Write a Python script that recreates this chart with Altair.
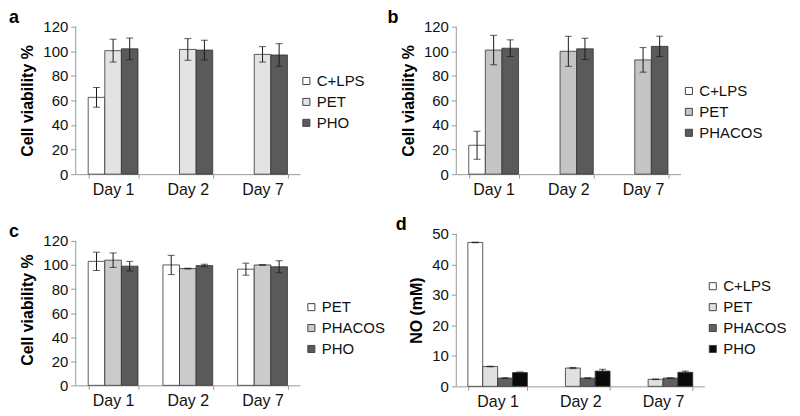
import altair as alt
import pandas as pd

days = ["Day 1", "Day 2", "Day 7"]

# Panel a
a_series = ["C+LPS", "PET", "PHO"]
a_colors = ["#ffffff", "#e3e3e3", "#5a5a5a"]
a_clps = [62.5, None, None]
a_clps_err = [8.0, None, None]
a_pet = [100.5, 101.5, 97.5]
a_pet_err = [9.3, 8.8, 6.3]
a_pho = [102.0, 101.0, 97.0]
a_pho_err = [8.8, 8.0, 9.2]

# Panel b
b_series = ["C+LPS", "PET", "PHACOS"]
b_colors = ["#ffffff", "#c4c4c4", "#5a5a5a"]
b_clps = [23.5, None, None]
b_clps_err = [11.4, None, None]
b_pet = [101.0, 100.0, 93.0]
b_pet_err = [12.0, 12.2, 10.0]
b_phacos = [102.5, 102.0, 104.0]
b_phacos_err = [6.8, 8.7, 8.3]

# Panel c
c_series = ["PET", "PHACOS", "PHO"]
c_colors = ["#ffffff", "#cbcbcb", "#5a5a5a"]
c_pet = [103.0, 100.0, 96.5]
c_pet_err = [7.6, 8.0, 5.0]
c_phacos = [104.0, 97.0, 100.0]
c_phacos_err = [6.0, 0.3, 0.2]
c_pho = [99.0, 99.5, 98.5]
c_pho_err = [4.0, 1.0, 5.0]

# Panel d
d_series = ["C+LPS", "PET", "PHACOS", "PHO"]
d_colors = ["#ffffff", "#e0e0e0", "#606060", "#0a0a0a"]
d_clps = [47.2, None, None]
d_clps_err = [0.1, None, None]
d_pet = [6.5, 6.0, 2.3]
d_pet_err = [0.1, 0.2, 0.1]
d_phacos = [2.7, 2.7, 2.7]
d_phacos_err = [0.1, 0.1, 0.1]
d_pho = [4.5, 5.0, 4.6]
d_pho_err = [0.2, 0.6, 0.4]

FONT = "Arial"


def make_df(series, values, errors):
    rows = []
    for s, vals, errs in zip(series, values, errors):
        for d, v, e in zip(days, vals, errs):
            if v is None:
                continue
            rows.append({"day": d, "series": s, "value": v, "lo": v - e, "hi": v + e})
    return pd.DataFrame(rows)


def panel(df, series, colors, letter, letter_dx, ytitle, ydomain, yvalues, ytop,
          width, height, pin, pout, lx, ly):
    xenc = alt.X("day:N", sort=days,
                 scale=alt.Scale(domain=days, paddingInner=pin, paddingOuter=pout),
                 axis=alt.Axis(title=None, labelAngle=0, tickBand="extent", grid=False,
                               domainColor="#999999", tickColor="#999999", tickSize=4,
                               labelFontSize=16, labelColor="#111111", labelPadding=3))
    xo = alt.XOffset("series:N", sort=series,
                     scale=alt.Scale(domain=series, paddingInner=0, paddingOuter=0))
    yaxis = alt.Axis(values=yvalues, grid=False, domain=False, tickColor="#999999",
                     tickSize=5, labelFontSize=15, labelColor="#111111", labelPadding=3,
                     labelOverlap=False,
                     title=ytitle, titleFontSize=16, titleFontWeight="bold",
                     titleColor="#000000", titlePadding=7)
    yscale = alt.Scale(domain=ydomain, nice=False, zero=True)
    base = alt.Chart(df)
    bars = base.mark_bar(stroke="#333333", strokeWidth=0.8).encode(
        x=xenc, xOffset=xo,
        y=alt.Y("value:Q", scale=yscale, axis=yaxis),
        color=alt.Color("series:N", sort=series,
                        scale=alt.Scale(domain=series, range=colors),
                        legend=alt.Legend(title=None, orient="none", legendX=lx, legendY=ly,
                                          symbolType="square", symbolSize=50,
                                          symbolStrokeColor="#444444", symbolStrokeWidth=1,
                                          labelFontSize=15, labelColor="#111111",
                                          labelOffset=3, rowPadding=5)),
    )
    rules = base.mark_rule(color="#1a1a1a", strokeWidth=1).encode(
        x=xenc, xOffset=xo,
        y=alt.Y("lo:Q", scale=yscale, axis=yaxis), y2="hi:Q")
    cap_hi = base.mark_tick(color="#1a1a1a", thickness=1, size=7).encode(
        x=xenc, xOffset=xo, y=alt.Y("hi:Q", scale=yscale, axis=yaxis))
    cap_lo = base.mark_tick(color="#1a1a1a", thickness=1, size=7).encode(
        x=xenc, xOffset=xo, y=alt.Y("lo:Q", scale=yscale, axis=yaxis))
    yline = alt.Chart(pd.DataFrame({"k": [0]})).mark_rule(color="#999999", strokeWidth=1).encode(
        x=alt.value(0), y=alt.datum(0, scale=yscale, axis=yaxis), y2=alt.datum(ytop))
    return alt.layer(bars, rules, cap_hi, cap_lo, yline).properties(
        width=width, height=height,
        title=alt.TitleParams(letter, anchor="start", fontSize=18, fontWeight="bold",
                              color="#000000", dx=letter_dx, offset=-7),
    )


df_a = make_df(a_series, [a_clps, a_pet, a_pho], [a_clps_err, a_pet_err, a_pho_err])
df_b = make_df(b_series, [b_clps, b_pet, b_phacos], [b_clps_err, b_pet_err, b_phacos_err])
df_c = make_df(c_series, [c_pet, c_phacos, c_pho], [c_pet_err, c_phacos_err, c_pho_err])
df_d = make_df(d_series, [d_clps, d_pet, d_phacos, d_pho],
               [d_clps_err, d_pet_err, d_phacos_err, d_pho_err])

ticks120 = [0, 20, 40, 60, 80, 100, 120]
pa = panel(df_a, a_series, a_colors, "a", -11, "Cell viability %", [0, 120], ticks120, 120,
           225, 148, 1 / 3, 1 / 6, 224, 47)
pb = panel(df_b, b_series, b_colors, "b", -13, "Cell viability %", [0, 120], ticks120, 120,
           225, 148, 1 / 3, 1 / 6, 226, 57)
pc = panel(df_c, c_series, c_colors, "c", -11, "Cell viability %", [0, 120 * 152 / 145],
           ticks120, 120, 225, 152, 1 / 3, 1 / 6, 229, 66)
pd_ = panel(df_d, d_series, d_colors, "d", -13, "NO (mM)", [0, 50], [0, 10, 20, 30, 40, 50], 50,
            249, 153, 0.28, 0.14, 250, 45)

chart = alt.concat(pa, pb, pc, pd_, columns=2, spacing={"row": 60, "column": 157},
                   bounds="flush", align="each").resolve_scale(
    color="independent", x="independent", y="independent", xOffset="independent"
).resolve_legend(color="independent").configure(
    font=FONT, padding={"left": 0, "top": 0, "right": 5, "bottom": 5}
).configure_view(stroke=None).configure_axisY(labelOverlap=False)

chart.save("out.html", embed_options={"renderer": "svg", "actions": False})
